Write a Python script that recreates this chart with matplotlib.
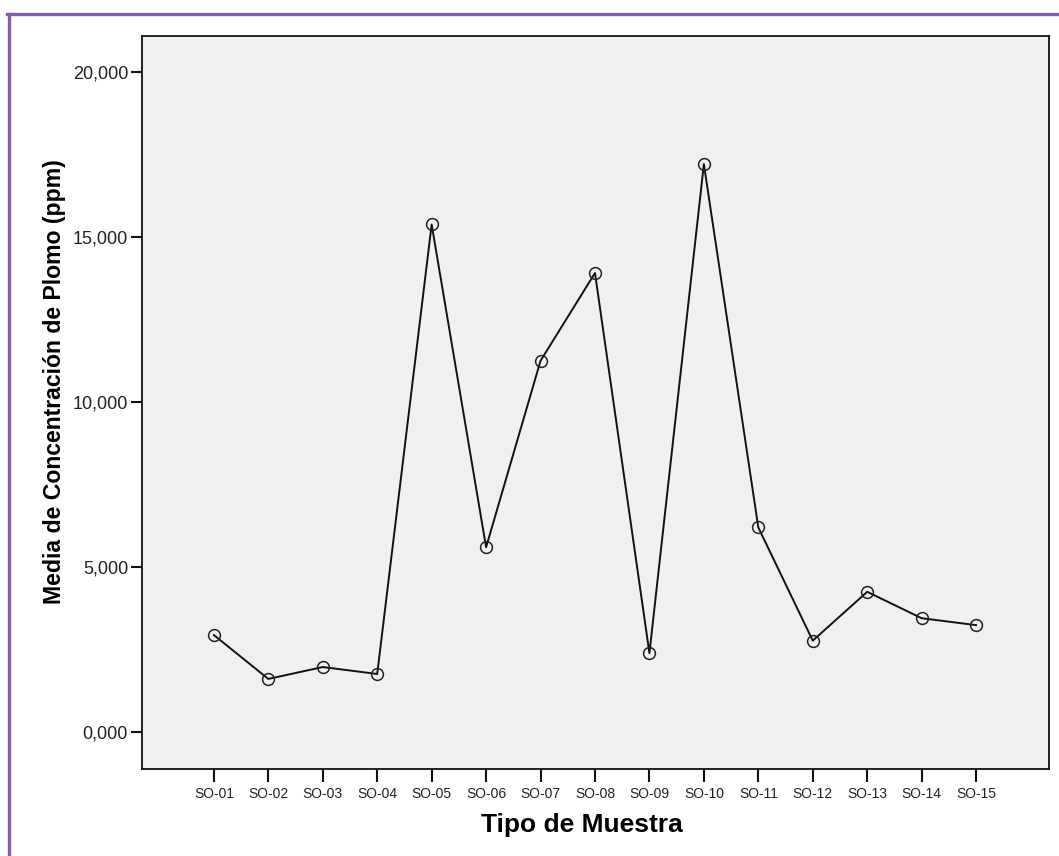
import matplotlib
matplotlib.use("Agg")
import matplotlib.pyplot as plt
from matplotlib.lines import Line2D
from matplotlib.ticker import FuncFormatter

matplotlib.rcParams.update({'font.family': 'Liberation Sans'})

# muestras y medias de concentracion de plomo (ppm)
muestras = ['SO-01', 'SO-02', 'SO-03', 'SO-04', 'SO-05', 'SO-06', 'SO-07', 'SO-08',
            'SO-09', 'SO-10', 'SO-11', 'SO-12', 'SO-13', 'SO-14', 'SO-15']
medias = [2.94, 1.61, 1.97, 1.76, 15.38, 5.60, 11.25, 13.91,
          2.39, 17.21, 6.20, 2.77, 4.25, 3.45, 3.24]
y_ticks = [0, 5, 10, 15, 20]

fig = plt.figure(figsize=(10.59, 8.56), dpi=100)
ax = fig.add_axes([0.1341, 0.1016, 0.8565, 0.8563])
ax.set_facecolor('#f0f0f0')

x = list(range(len(muestras)))
ax.plot(x, medias, color='#111111', linewidth=1.4, marker='o', markersize=8.5,
        markerfacecolor='none', markeredgecolor='#222222', markeredgewidth=1.1)

ax.set_xlim(-1.32, 15.34)
ax.set_ylim(-1.12, 21.09)
ax.set_xticks(x)
ax.set_xticklabels(muestras, fontsize=10)
ax.set_yticks(y_ticks)
ax.yaxis.set_major_formatter(FuncFormatter(lambda v, p: f"{v:.3f}".replace('.', ',')))
ax.tick_params(axis='y', labelsize=13, length=8, width=1.5, pad=2,
               color='#111111', labelcolor='#222222')
ax.tick_params(axis='x', length=9, width=1.5, pad=4,
               color='#111111', labelcolor='#222222')

for s in ax.spines.values():
    s.set_linewidth(1.3)
    s.set_color('#111111')

ax.set_xlabel('Tipo de Muestra', fontsize=19, fontweight='bold')
ax.set_ylabel('Media de Concentración de Plomo (ppm)', fontsize=16.6, fontweight='bold')
ax.xaxis.set_label_coords(0.485, -0.06)
ax.yaxis.set_label_coords(-0.084, 0.529)

# marco morado (solo arriba e izquierda)
purple = '#8064a2'
fig.add_artist(Line2D([0.0083, 0.0083], [0.9842, 0.0], transform=fig.transFigure,
                      color=purple, linewidth=2.4))
fig.add_artist(Line2D([0.0068, 1.0], [0.9842, 0.9842], transform=fig.transFigure,
                      color=purple, linewidth=2.4))

plt.savefig("out.png", dpi=100)
